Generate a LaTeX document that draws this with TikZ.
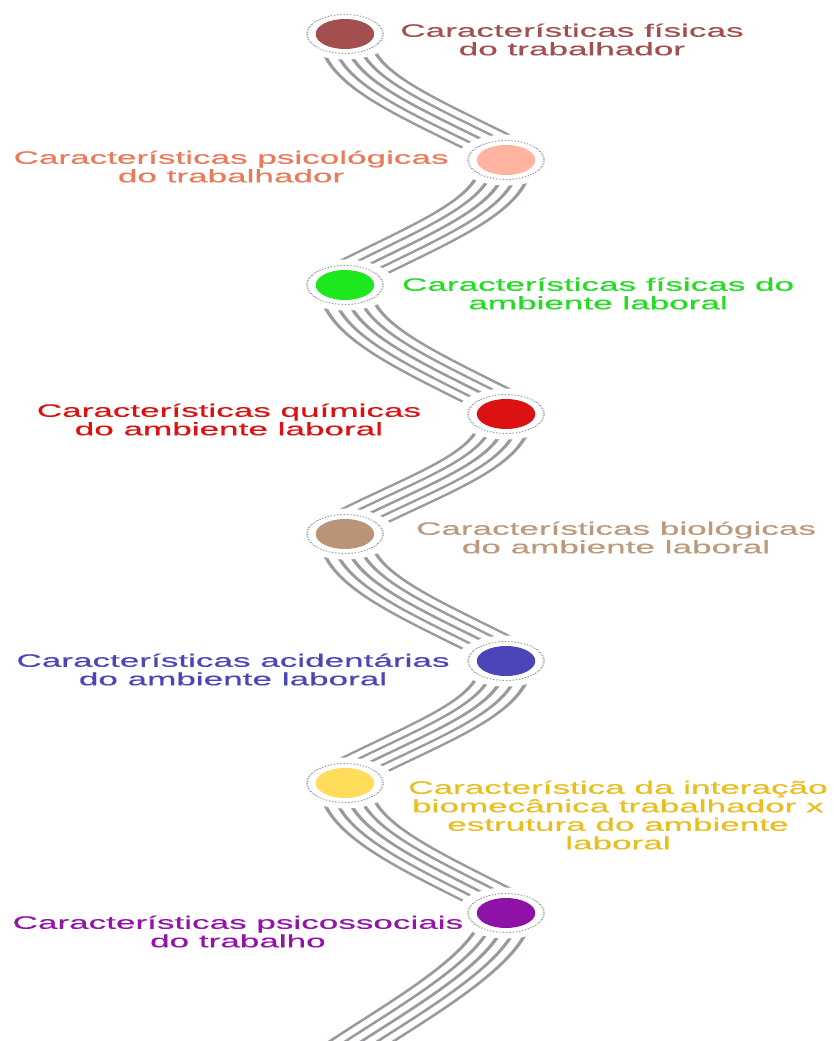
\documentclass[tikz,border=0pt]{standalone}
\usepackage{fontspec}
\setmainfont{Liberation Sans}
\newfontfamily\lblfont[FakeBold=0.3]{Liberation Sans}
\definecolor{stripgray}{HTML}{979BA0}
\definecolor{ringgray}{HTML}{8E9296}
\definecolor{cA}{HTML}{A34F4F}
\definecolor{cB}{HTML}{FFB4A0}
\definecolor{tB}{HTML}{E97A5A}
\definecolor{cC}{HTML}{1DE81D}
\definecolor{tC}{HTML}{22DD22}
\definecolor{cD}{HTML}{DC1212}
\definecolor{cE}{HTML}{B99476}
\definecolor{tE}{HTML}{BB9A7C}
\definecolor{cF}{HTML}{4A46BA}
\definecolor{cG}{HTML}{FFDC5A}
\definecolor{tG}{HTML}{E8BE20}
\definecolor{cH}{HTML}{8E12A8}
\definecolor{tH}{HTML}{9414AA}
\begin{document}
\begin{tikzpicture}[x=1pt,y=-1pt,
  strand/.style={line cap=butt, draw=stripgray, line width=27.6pt,
    postaction={draw=white, line width=23.6pt},
    postaction={draw=stripgray, line width=14.8pt},
    postaction={draw=white, line width=10.8pt},
    postaction={draw=stripgray, line width=2pt}},
  hub/.style={circle, inner sep=0pt, minimum size=30pt, fill=#1},
  ring/.style={draw=ringgray, line width=0.9pt, dash pattern=on 0.7pt off 1pt},
  lbl/.style={align=center, font=\lblfont\fontsize{18}{18.5}\selectfont, text=#1, inner sep=0pt}]
\useasboundingbox (0,0) rectangle (833,1041);
\clip (0,0) rectangle (833,1041);
\begin{scope}[transform canvas={xscale=1.95}]
\coordinate (p1) at (176.9,34);
\coordinate (p2) at (259.5,160);
\coordinate (p3) at (176.9,285);
\coordinate (p4) at (259.5,414);
\coordinate (p5) at (176.9,534);
\coordinate (p6) at (259.5,661);
\coordinate (p7) at (176.9,783);
\coordinate (p8) at (259.5,913);
\coordinate (p9) at (168,1065);
% ribbons
\draw[strand] (p1) .. controls +(0,46) and +(-45,-45) .. ([shift={(1.5,-7)}]p2);
\draw[strand] (p2) .. controls +(0,46) and +(45,-45) .. ([shift={(-1.5,-7)}]p3);
\draw[strand] (p3) .. controls +(0,46) and +(-45,-45) .. ([shift={(1.5,-7)}]p4);
\draw[strand] (p4) .. controls +(0,46) and +(45,-45) .. ([shift={(-1.5,-7)}]p5);
\draw[strand] (p5) .. controls +(0,46) and +(-45,-45) .. ([shift={(1.5,-7)}]p6);
\draw[strand] (p6) .. controls +(0,46) and +(45,-45) .. ([shift={(-1.5,-7)}]p7);
\draw[strand] (p7) .. controls +(0,46) and +(-45,-45) .. ([shift={(1.5,-7)}]p8);
\draw[strand] (p8) .. controls +(0,50) and +(22,-35) .. (p9);
% halos and rings
\foreach \p in {p1,p2,p3,p4,p5,p6,p7,p8}{
  \fill[white] (\p) circle (25.5pt);
  \draw[ring] (\p) circle (19.5pt);
}
% hubs
\node[hub=cA] (n1) at (p1) {};
\node[hub=cB] (n2) at (p2) {};
\node[hub=cC] (n3) at (p3) {};
\node[hub=cD] (n4) at (p4) {};
\node[hub=cE] (n5) at (p5) {};
\node[hub=cF] (n6) at (p6) {};
\node[hub=cG] (n7) at (p7) {};
\node[hub=cH] (n8) at (p8) {};
% labels
\node[lbl=cA] (l1) at (293.3,39.5) {Características físicas\\do trabalhador};
\node[lbl=tB] (l2) at (118.5,166.5) {Características psicológicas\\do trabalhador};
\node[lbl=tC] (l3) at (306.7,293.5) {Características físicas do\\ambiente laboral};
\node[lbl=cD] (l4) at (117.4,419.5) {Características químicas\\do ambiente laboral};
\node[lbl=tE] (l5) at (315.9,537.5) {Características biológicas\\do ambiente laboral};
\node[lbl=cF] (l6) at (119.5,669.5) {Características acidentárias\\do ambiente laboral};
\node[lbl=tG] (l7) at (316.9,815) {Característica da interação\\biomecânica trabalhador x\\estrutura do ambiente\\laboral};
\node[lbl=tH] (l8) at (122,931.5) {Características psicossociais\\do trabalho};
\end{scope}
\end{tikzpicture}
\end{document}
